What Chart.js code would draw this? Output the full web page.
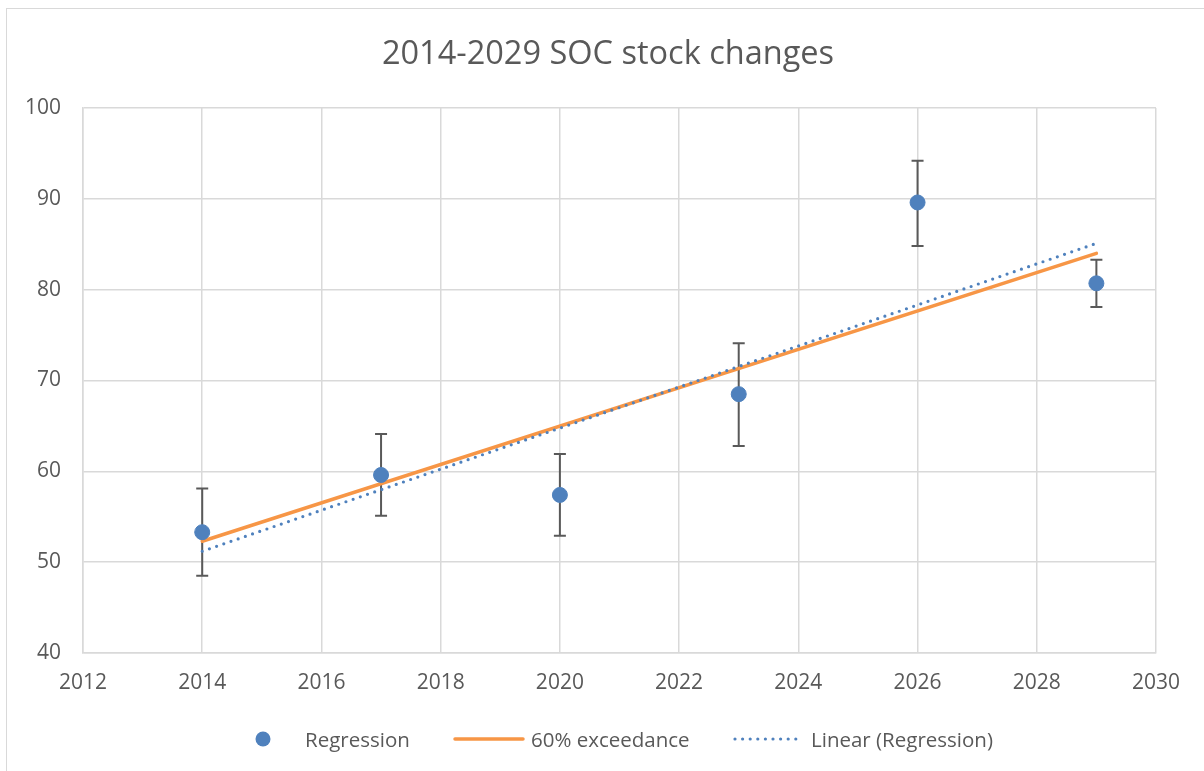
<!DOCTYPE html>
<html>
<head>
<meta charset="utf-8">
<script src="https://cdn.jsdelivr.net/npm/chart.js@4"></script>
<style>
  html, body { margin: 0; padding: 0; background: #fff; }
  #wrap { position: relative; width: 1204px; height: 771px; overflow: hidden; }
  #frame { position: absolute; left: 6px; top: 8px; width: 1210px; height: 780px; border: 1.5px solid #d9d9d9; box-sizing: border-box; }
  canvas { position: absolute; left: 0; top: 0; }
  #title { position: absolute; left: 0; width: 1216px; top: 30px; text-align: center; font-family: "Open Sans", sans-serif; font-size: 32.5px; color: #595959; line-height: 44px; white-space: nowrap; }
  .leg { position: absolute; font-family: "Open Sans", sans-serif; font-size: 20.5px; color: #595959; top: 725px; line-height: 28px; white-space: nowrap; }
  .mark { position: absolute; }
</style>
</head>
<body>
<div id="wrap">
  <div id="frame"></div>
  <canvas id="socChart" width="1204" height="771"></canvas>
  <div id="title">2014-2029 SOC stock changes</div>
  <!-- legend, drawn as html so each item can have its own marker -->
  <svg class="mark" style="left:255px;top:731px" width="16" height="16"><circle cx="8" cy="8" r="7.5" fill="#4f81bd"/></svg>
  <span class="leg" style="left:305px">Regression</span>
  <svg class="mark" style="left:453px;top:735px" width="72" height="8"><line x1="2" y1="4" x2="70" y2="4" stroke="#f79646" stroke-width="3.5" stroke-linecap="round"/></svg>
  <span class="leg" style="left:531px">60% exceedance</span>
  <svg class="mark" style="left:733px;top:735px" width="72" height="8"><line x1="2" y1="4" x2="70" y2="4" stroke="#4f81bd" stroke-width="3.2" stroke-linecap="round" stroke-dasharray="0 7.6"/></svg>
  <span class="leg" style="left:811px">Linear (Regression)</span>
</div>

<script>
// values
const years = [2014, 2017, 2020, 2023, 2026, 2029];
const socStock = [53.3, 59.6, 57.4, 68.5, 89.6, 80.7];
const errUpper = [58.1, 64.1, 61.9, 74.1, 94.2, 83.3];
const errLower = [48.5, 55.1, 52.9, 62.8, 84.8, 78.1];

// the two straight lines, end points at 2014 and 2029
const lineYears = [2014, 2029];
const exceedance60 = [52.3, 84.0];
const linearTrend = [51.2, 85.1];

const xTicks = [2012, 2014, 2016, 2018, 2020, 2022, 2024, 2026, 2028, 2030];
const yTicks = [40, 50, 60, 70, 80, 90, 100];

const toPoints = (xs, ys) => xs.map((x, i) => ({ x: x, y: ys[i] }));

// error bars drawn with the chart's own scales, under the markers
const errorBars = {
  id: 'errorBars',
  beforeDatasetsDraw(chart) {
    const ctx = chart.ctx;
    const xs = chart.scales.x;
    const ys = chart.scales.y;
    ctx.save();
    ctx.strokeStyle = '#595959';
    ctx.lineWidth = 2;
    years.forEach((yr, i) => {
      const px = xs.getPixelForValue(yr);
      const top = ys.getPixelForValue(errUpper[i]);
      const bot = ys.getPixelForValue(errLower[i]);
      ctx.beginPath();
      ctx.moveTo(px, top);
      ctx.lineTo(px, bot);
      ctx.moveTo(px - 6, top);
      ctx.lineTo(px + 6, top);
      ctx.moveTo(px - 6, bot);
      ctx.lineTo(px + 6, bot);
      ctx.stroke();
    });
    ctx.restore();
  }
};

const tickFont = { family: '"Open Sans", sans-serif', size: 21 };

new Chart(document.getElementById('socChart').getContext('2d'), {
  type: 'scatter',
  data: {
    datasets: [
      {
        label: 'Regression',
        data: toPoints(years, socStock),
        backgroundColor: '#4f81bd',
        borderColor: '#4f81bd',
        pointRadius: 7.5,
        pointHoverRadius: 7.5,
        order: 0
      },
      {
        label: '60% exceedance',
        type: 'line',
        data: toPoints(lineYears, exceedance60),
        borderColor: '#f79646',
        borderWidth: 3.5,
        borderCapStyle: 'round',
        pointRadius: 0,
        fill: false,
        order: 2
      },
      {
        label: 'Linear (Regression)',
        type: 'line',
        data: toPoints(lineYears, linearTrend),
        borderColor: '#4f81bd',
        borderWidth: 3.2,
        borderDash: [0, 7.6],
        borderCapStyle: 'round',
        pointRadius: 0,
        fill: false,
        order: 1
      }
    ]
  },
  options: {
    responsive: false,
    animation: false,
    layout: { padding: { left: 0, right: 48, top: 108, bottom: 0 } },
    plugins: {
      legend: { display: false },
      tooltip: { enabled: false },
      title: { display: false }
    },
    scales: {
      x: {
        type: 'linear',
        min: 2012,
        max: 2030,
        afterBuildTicks(axis) { axis.ticks = xTicks.map(v => ({ value: v })); },
        afterFit(axis) { axis.height = 118; },
        ticks: { color: '#595959', font: tickFont, padding: 17, callback: v => String(v) },
        grid: { color: '#d9d9d9', lineWidth: 1.5, drawTicks: false },
        border: { color: '#d9d9d9', width: 1.5 }
      },
      y: {
        min: 40,
        max: 100,
        afterBuildTicks(axis) { axis.ticks = yTicks.map(v => ({ value: v })); },
        afterFit(axis) { axis.width = 83; },
        ticks: { color: '#595959', font: tickFont, padding: 22 },
        grid: { color: '#d9d9d9', lineWidth: 1.5, drawTicks: false },
        border: { color: '#d9d9d9', width: 1.5 }
      }
    }
  },
  plugins: [errorBars]
});
</script>
</body>
</html>
